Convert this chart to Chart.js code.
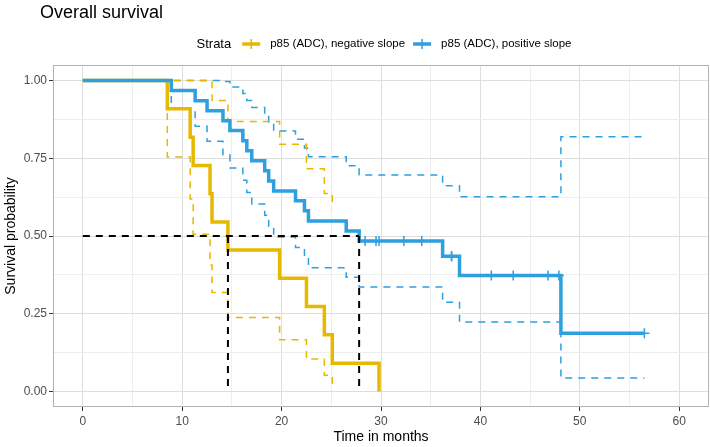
<!DOCTYPE html>
<html>
<head>
<meta charset="utf-8">
<title>Overall survival</title>
<script src="https://cdn.jsdelivr.net/npm/chart.js@4.4.0/dist/chart.umd.min.js"></script>
<style>
  html, body { margin: 0; padding: 0; background: #fff; }
  #wrap { width: 710px; height: 447px; }
</style>
</head>
<body>
<div id="wrap"><canvas id="km-chart" width="710" height="447"></canvas></div>
<script>
const chartTitle = 'Overall survival';
const legendTitle = 'Strata';
const groupNames = ['p85 (ADC), negative slope', 'p85 (ADC), positive slope'];
const groupColors = ['#E7B800', '#2E9FDF'];

// negative slope: step times (months), survival after the step, 95% CI
const negTime  = [0, 8.5, 10.8, 11.1, 12.8, 13.0, 14.6, 19.8, 22.5, 24.3, 25.1, 29.8];
const negSurv  = [1, 0.909, 0.818, 0.727, 0.636, 0.545, 0.455, 0.364, 0.273, 0.182, 0.091, 0];
const negUpper = [1, 1, 1, 1, 0.995, 0.936, 0.868, 0.795, 0.716, 0.637, 0.589, null];
const negLower = [1, 0.754, 0.619, 0.506, 0.407, 0.318, 0.238, 0.166, 0.104, 0.052, 0.014, null];

// positive slope
const posTime  = [0, 8.9, 11.3, 12.5, 14.1, 14.8, 16.1, 16.5, 17.0, 18.3, 18.7, 19.2, 21.4, 22.3, 22.7, 26.5, 27.8, 36.2, 37.9, 48.1, 56.5];
const posSurv  = [1, 0.968, 0.935, 0.903, 0.871, 0.839, 0.806, 0.774, 0.742, 0.710, 0.677, 0.645, 0.613, 0.581, 0.548, 0.516, 0.484, 0.435, 0.373, 0.187, 0.187];
const posUpper = [1, 1, 1, 1, 0.997, 0.979, 0.958, 0.936, 0.913, 0.889, 0.864, 0.838, 0.811, 0.783, 0.755, 0.726, 0.696, 0.662, 0.626, 0.819, 0.819];
const posLower = [1, 0.908, 0.853, 0.805, 0.761, 0.719, 0.679, 0.640, 0.603, 0.567, 0.531, 0.497, 0.463, 0.431, 0.398, 0.367, 0.336, 0.287, 0.223, 0.043, 0.043];
const posCensor = [28.4, 29.5, 29.8, 32.3, 34.1, 37.1, 37.1, 41.1, 43.3, 46.8, 47.9, 56.5];

const medians = [14.6, 27.8];

const xTicks = [0, 10, 20, 30, 40, 50, 60];
const xMinor = [5, 15, 25, 35, 45, 55];
const yTicks = [0, 0.25, 0.5, 0.75, 1];
const yTickLabels = ['0.00', '0.25', '0.50', '0.75', '1.00'];
const yMinor = [0.125, 0.375, 0.625, 0.875];

const pts = (xs, ys) => xs.map((x, i) => ({x: x, y: ys[i]}));
const survAt = (xs, ys, t) => {
  let s = ys[0];
  xs.forEach((x, i) => { if (x <= t) s = ys[i]; });
  return s;
};

const ciLine = (data, color) => ({
  data: data, borderColor: color, borderWidth: 1.5, borderDash: [7, 6],
  stepped: true, pointRadius: 0, fill: false, order: 4
});
const kmLine = (data, color, order) => ({
  data: data, borderColor: color, borderWidth: 3.5,
  stepped: true, pointRadius: 0, fill: false, order: order
});
const medLine = (data) => ({
  data: data, borderColor: '#000', borderWidth: 2, borderDash: [7, 6],
  pointRadius: 0, fill: false, order: 0
});

const datasets = [
  ciLine(pts(negTime, negUpper), groupColors[0]),
  ciLine(pts(negTime, negLower), groupColors[0]),
  ciLine(pts(posTime, posUpper), groupColors[1]),
  ciLine(pts(posTime, posLower), groupColors[1]),
  kmLine(pts(negTime, negSurv), groupColors[0], 3),
  kmLine(pts(posTime, posSurv), groupColors[1], 2),
  {
    data: posCensor.map(t => ({x: t, y: survAt(posTime, posSurv, t)})),
    showLine: false, pointStyle: 'cross', pointRadius: 5, borderWidth: 1.5,
    borderColor: groupColors[1], order: 1
  },
  medLine([{x: 0, y: 0.5}, {x: Math.max(...medians), y: 0.5}])
];
medians.forEach(m => datasets.push(medLine([{x: m, y: 0.5}, {x: m, y: 0}])));

const minorColor = v => (xTicks.includes(v) || yTicks.includes(v)) ? '#DEDEDE' : '#EEEEEE';

const decorations = {
  id: 'decorations',
  afterDraw(chart) {
    const {ctx, chartArea} = chart;
    ctx.save();
    ctx.strokeStyle = '#B3B3B3';
    ctx.lineWidth = 1;
    ctx.strokeRect(chartArea.left + 0.5, chartArea.top + 0.5, chartArea.width - 1, chartArea.height - 1);

    ctx.fillStyle = '#000';
    ctx.textBaseline = 'middle';
    ctx.textAlign = 'left';
    ctx.font = '18px "Liberation Sans", Arial, sans-serif';
    ctx.fillText(chartTitle, 40, 13);

    // legend, centred over the panel
    const y = 44, keyW = 18;
    ctx.font = '13px "Liberation Sans", Arial, sans-serif';
    const titleW = ctx.measureText(legendTitle).width;
    ctx.font = '11.5px "Liberation Sans", Arial, sans-serif';
    const labW = groupNames.map(n => ctx.measureText(n).width);
    const total = titleW + 11 + (keyW + 10) * 2 + labW[0] + 8 + labW[1];
    let x = (chartArea.left + chartArea.right) / 2 - total / 2 + 3;
    ctx.font = '13px "Liberation Sans", Arial, sans-serif';
    ctx.fillText(legendTitle, x, y);
    x += titleW + 11;
    ctx.font = '11.5px "Liberation Sans", Arial, sans-serif';
    groupNames.forEach((name, i) => {
      ctx.strokeStyle = groupColors[i];
      ctx.lineWidth = 3.5;
      ctx.beginPath();
      ctx.moveTo(x, y);
      ctx.lineTo(x + keyW, y);
      ctx.stroke();
      ctx.lineWidth = 1.5;
      ctx.beginPath();
      ctx.moveTo(x + keyW / 2, y - 5);
      ctx.lineTo(x + keyW / 2, y + 5);
      ctx.stroke();
      x += keyW + 10;
      ctx.fillStyle = '#000';
      ctx.fillText(name, x, y);
      x += labW[i] + 8;
    });
    ctx.restore();
  }
};

Chart.defaults.font.family = '"Liberation Sans", Arial, sans-serif';

const ctx = document.getElementById('km-chart').getContext('2d');
const myChart = new Chart(ctx, {
  type: 'line',
  data: {datasets: datasets},
  plugins: [decorations],
  options: {
    responsive: false,
    animation: false,
    devicePixelRatio: 1,
    layout: {autoPadding: false, padding: {top: 65, right: 1, left: 0, bottom: 0}},
    plugins: {legend: {display: false}, tooltip: {enabled: false}},
    scales: {
      x: {
        type: 'linear', min: -3, max: 63,
        afterBuildTicks: s => { s.ticks = xTicks.concat(xMinor).sort((a, b) => a - b).map(v => ({value: v})); },
        afterFit: s => { s.height = 40; s.paddingLeft = 0; s.paddingRight = 0; },
        ticks: {
          autoSkip: false, maxRotation: 0, padding: 3, color: '#4D4D4D', font: {size: 12},
          callback: v => xTicks.includes(v) ? String(v) : ''
        },
        grid: {
          color: c => minorColor(c.tick.value), lineWidth: 1, tickLength: 4,
          tickColor: c => xTicks.includes(c.tick.value) ? '#333' : 'rgba(0,0,0,0)'
        },
        border: {display: false},
        title: {display: true, text: 'Time in months', color: '#000', font: {size: 14}, padding: {top: 0, bottom: 1}}
      },
      y: {
        type: 'linear', min: -0.05, max: 1.05,
        afterBuildTicks: s => { s.ticks = yTicks.concat(yMinor).sort((a, b) => a - b).map(v => ({value: v})); },
        afterFit: s => { s.width = 53; s.paddingTop = 0; s.paddingBottom = 0; },
        ticks: {
          autoSkip: false, padding: 2, color: '#4D4D4D', font: {size: 12},
          callback: v => { const i = yTicks.indexOf(v); return i >= 0 ? yTickLabels[i] : ''; }
        },
        grid: {
          color: c => minorColor(c.tick.value), lineWidth: 1, tickLength: 4,
          tickColor: c => yTicks.includes(c.tick.value) ? '#333' : 'rgba(0,0,0,0)'
        },
        border: {display: false},
        title: {display: true, text: 'Survival probability', color: '#000', font: {size: 14}, padding: {top: 3, bottom: 0}}
      }
    }
  }
});
</script>
</body>
</html>
